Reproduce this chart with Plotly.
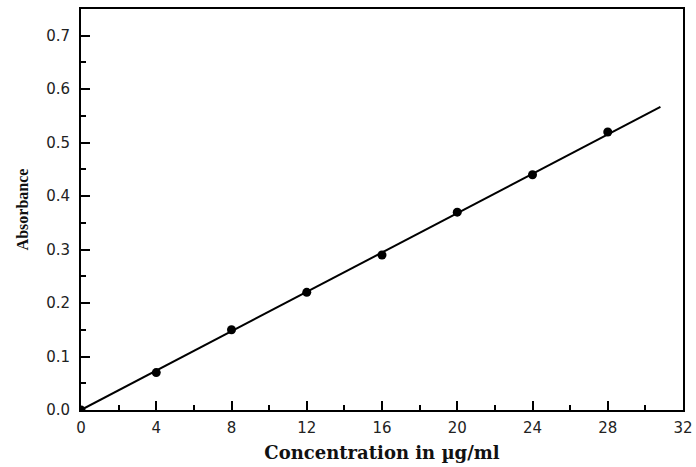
import plotly.graph_objects as go

conc = [0, 4, 8, 12, 16, 20, 24, 28]
absorb = [0.0, 0.07, 0.15, 0.22, 0.29, 0.37, 0.44, 0.52]
fit_x = [0, 30.8]
fit_y = [0.0, 0.567]
x_ticks = [0, 4, 8, 12, 16, 20, 24, 28, 32]
y_ticks = [0.0, 0.1, 0.2, 0.3, 0.4, 0.5, 0.6, 0.7]

fig = go.Figure()
fig.add_trace(go.Scatter(x=fit_x, y=fit_y, mode="lines",
                         line=dict(color="black", width=2), showlegend=False))
fig.add_trace(go.Scatter(x=conc, y=absorb, mode="markers",
                         marker=dict(color="black", size=9, symbol="circle"),
                         showlegend=False, cliponaxis=True))

tickfont = dict(family="DejaVu Sans", size=15, color="#222")
axis_common = dict(showline=True, linecolor="black", linewidth=2, mirror=True,
                   ticks="inside", ticklen=9, tickwidth=2, tickcolor="black",
                   showgrid=False, zeroline=False, automargin=False,
                   tickfont=tickfont,
                   minor=dict(ticks="inside", ticklen=5, tickwidth=2, tickcolor="black"))

fig.update_xaxes(range=[0, 32], tickvals=x_ticks, ticktext=[str(v) for v in x_ticks],
                 minor_dtick=2, ticklabelstandoff=3, **axis_common,
                 title=dict(text="<b>Concentration in µg/ml</b>",
                            font=dict(family="DejaVu Serif", size=18, color="#111"),
                            standoff=10))
fig.update_yaxes(range=[0, 0.75], tickvals=y_ticks, ticktext=[f"{v:.1f}" for v in y_ticks],
                 minor_dtick=0.05, ticklabelstandoff=6, **axis_common,
                 title=dict(text="<b>Absorbance</b>",
                            font=dict(family="Liberation Serif, Times New Roman", size=16, color="#111"),
                            standoff=14))

fig.update_layout(width=696, height=467, margin=dict(l=81, r=13, t=9, b=57),
                  plot_bgcolor="white", paper_bgcolor="white")
fig.write_html("out.html", config={"displayModeBar": False},
               post_script="document.body.style.margin='0px';document.body.style.overflow='hidden';")
